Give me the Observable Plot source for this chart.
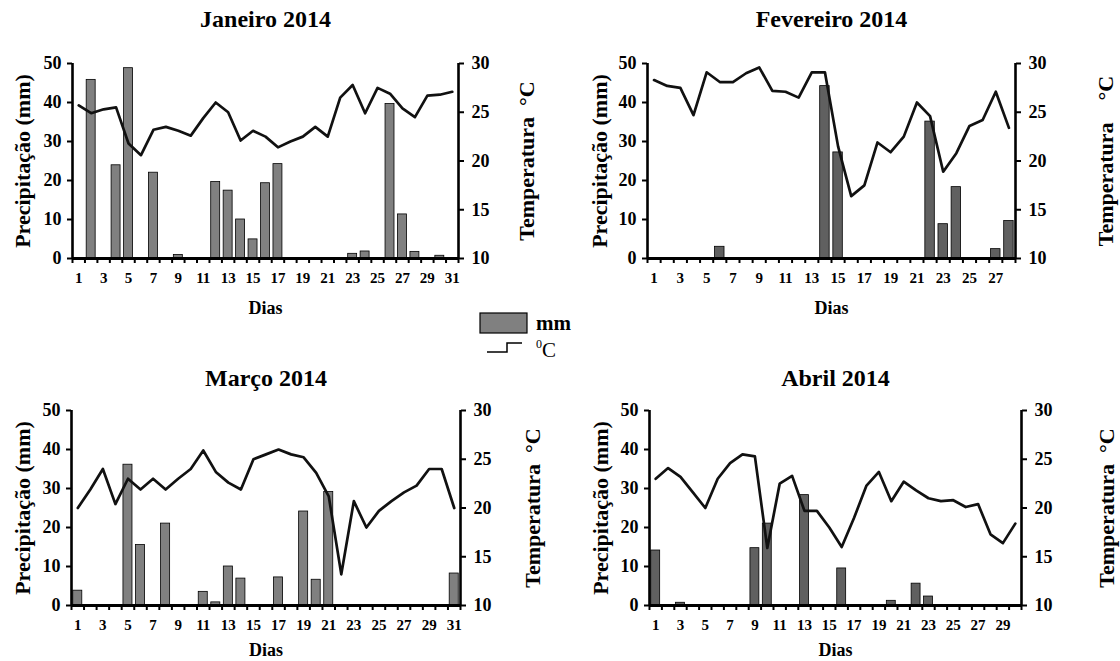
<!DOCTYPE html>
<html>
<head>
<meta charset="utf-8">
<script src="https://cdn.jsdelivr.net/npm/d3@7"></script>
<script src="https://cdn.jsdelivr.net/npm/@observablehq/plot@0.6"></script>
<style>
  html, body { margin: 0; padding: 0; background: #fff; }
  #wrap { position: relative; width: 1120px; height: 661px; background: #fff; overflow: hidden; }
  #wrap > svg { position: absolute; margin: 0; }
  #wrap svg, #wrap svg text { font-family: "Liberation Serif", "Times New Roman", serif; }
</style>
</head>
<body>
<div id="wrap"></div>
<script>
// ---------- data ----------
const janDays = d3.range(1, 32);
const janMM = [0, 45.8, 0, 23.9, 48.8, 0, 22, 0, 0.9, 0, 0, 19.6, 17.4, 10, 4.9, 19.3, 24.2, 0, 0, 0, 0, 0, 1.2, 1.8, 0, 39.6, 11.3, 1.7, 0, 0.7, 0];
const janTemp = [25.7, 24.9, 25.3, 25.5, 21.8, 20.6, 23.2, 23.5, 23.1, 22.6, 24.4, 26.0, 25.0, 22.1, 23.1, 22.5, 21.4, 22.0, 22.5, 23.5, 22.5, 26.5, 27.8, 24.9, 27.5, 26.9, 25.4, 24.5, 26.7, 26.8, 27.1];

const fevDays = d3.range(1, 29);
const fevMM = [0, 0, 0, 0, 0, 3.0, 0, 0, 0, 0, 0, 0, 0, 44.2, 27.2, 0, 0, 0, 0, 0, 0, 35.1, 8.8, 18.3, 0, 0, 2.4, 9.6];
const fevTemp = [28.3, 27.7, 27.5, 24.7, 29.1, 28.1, 28.1, 29.0, 29.6, 27.2, 27.1, 26.5, 29.1, 29.1, 21.5, 16.4, 17.5, 21.9, 20.9, 22.5, 26.0, 24.6, 18.9, 20.8, 23.6, 24.2, 27.1, 23.4];

const marDays = d3.range(1, 32);
const marMM = [3.8, 0, 0, 0, 36.1, 15.5, 0, 21.0, 0, 0, 3.5, 0.8, 10.0, 6.9, 0, 0, 7.2, 0, 24.1, 6.6, 29.1, 0, 0, 0, 0, 0, 0, 0, 0, 0, 8.2];
const marTemp = [20.0, 21.9, 24.0, 20.4, 23.0, 21.9, 23.0, 21.9, 23.0, 24.0, 25.9, 23.7, 22.6, 21.9, 25.0, 25.5, 26.0, 25.5, 25.2, 23.6, 21.2, 13.2, 20.7, 18.0, 19.7, 20.7, 21.6, 22.3, 24.0, 24.0, 20.0];

const abrDays = d3.range(1, 31);
const abrMM = [14.1, 0, 0.7, 0, 0, 0, 0, 0, 14.7, 21.0, 0, 0, 28.3, 0, 0, 9.5, 0, 0, 0, 1.2, 0, 5.6, 2.3, 0, 0, 0, 0, 0, 0, 0];
const abrTemp = [23.0, 24.1, 23.2, 21.6, 20.0, 23.0, 24.6, 25.5, 25.3, 15.9, 22.5, 23.3, 19.7, 19.7, 18.0, 16.0, 19.0, 22.3, 23.7, 20.7, 22.7, 21.8, 21.0, 20.7, 20.8, 20.1, 20.4, 17.3, 16.4, 18.4];

const mmTicks = [0, 10, 20, 30, 40, 50];
const tempTicks = [10, 15, 20, 25, 30];

// ---------- drawing ----------
const FONT = "Liberation Serif, Times New Roman, serif";
const tToMM = t => (t - 10) * 2.5;   // 10..30 °C  ->  0..50 mm axis

function panel(cfg) {
  const n = cfg.days.length;
  const data = cfg.days.map((d, i) => ({day: d, mm: cfg.mm[i], t: cfg.temp[i]}));
  const bounds = d3.range(n + 1).map(i => i + 0.5);
  const labels = cfg.days.filter(d => d % 2 === 1);
  const T = {fontFamily: FONT, fontWeight: "bold"};
  const svg = Plot.plot({
    width: cfg.width, height: cfg.height,
    marginLeft: cfg.mL, marginRight: cfg.mR, marginTop: cfg.mT, marginBottom: cfg.mB,
    style: `font-family: ${FONT}; font-weight: bold; font-size: 15px; color: #000; background: transparent; overflow: visible;`,
    x: {domain: [0.5, n + 0.5], label: null},
    y: {domain: [0, 50], label: null},
    marks: [
      Plot.rectY(data.filter(d => d.mm > 0), {x1: d => d.day - 0.36, x2: d => d.day + 0.36, y: "mm", fill: cfg.color, stroke: "#000", strokeWidth: 0.8}),
      Plot.line(data, {x: "day", y: d => tToMM(d.t), stroke: "#111", strokeWidth: 2.7, strokeLinejoin: "round"}),
      Plot.axisX({ticks: bounds, tickSize: 5, tickFormat: () => "", strokeWidth: 2, label: null}),
      Plot.axisX({ticks: labels, tickSize: 0, tickPadding: 14, tickFormat: d => String(d), fontSize: 15, label: null, ...T}),
      Plot.axisY({ticks: mmTicks, tickSize: 5, tickPadding: 6, strokeWidth: 2, fontSize: 18, label: null, ...T}),
      Plot.axisY({anchor: "right", ticks: tempTicks.map(tToMM), tickFormat: v => String(v / 2.5 + 10), tickSize: 5, tickPadding: 8, strokeWidth: 2, fontSize: 18, label: null, ...T}),
      Plot.ruleX([0.5, n + 0.5], {stroke: "#000", strokeWidth: 2.6}),
      Plot.ruleY([0], {stroke: "#000", strokeWidth: 3.2}),
      Plot.text([cfg.title], {frameAnchor: "top", textAnchor: "middle", lineAnchor: "middle", dy: cfg.titleDy, fontSize: 24, ...T}),
      Plot.text(["Precipitação (mm)"], {frameAnchor: "left", textAnchor: "middle", lineAnchor: "middle", rotate: -90, dx: cfg.lDx, fontSize: 22, ...T}),
      Plot.text([cfg.rLabel], {frameAnchor: "right", textAnchor: "middle", lineAnchor: "middle", rotate: -90, dx: cfg.rDx, fontSize: 22, ...T}),
      Plot.text(["Dias"], {frameAnchor: "bottom", textAnchor: "middle", lineAnchor: "middle", dy: cfg.diasDy, fontSize: 18, ...T})
    ]
  });
  svg.style.left = cfg.left + "px";
  svg.style.top = cfg.top + "px";
  svg.style.fontFamily = FONT;
  return svg;
}

const wrap = document.getElementById("wrap");

wrap.appendChild(panel({
  days: janDays, mm: janMM, temp: janTemp, color: "#808080", title: "Janeiro 2014",
  rLabel: "Temperatura\u00a0\u00a0°C",
  left: 0, top: 0, width: 560, height: 330, mL: 72, mR: 102, mT: 63, mB: 72,
  titleDy: -44, lDx: -50, rDx: 68, diasDy: 50
}));
wrap.appendChild(panel({
  days: fevDays, mm: fevMM, temp: fevTemp, color: "#606060", title: "Fevereiro 2014",
  rLabel: "Temperatura\u00a0\u00a0\u00a0\u00a0°C",
  left: 560, top: 0, width: 560, height: 330, mL: 87, mR: 105, mT: 63, mB: 72,
  titleDy: -44, lDx: -48, rDx: 90, diasDy: 50
}));
wrap.appendChild(panel({
  days: marDays, mm: marMM, temp: marTemp, color: "#808080", title: "Março 2014",
  rLabel: "Temperatura\u00a0\u00a0°C",
  left: 0, top: 340, width: 560, height: 321, mL: 71, mR: 100, mT: 70, mB: 56,
  titleDy: -32, lDx: -49, rDx: 72, diasDy: 45
}));
wrap.appendChild(panel({
  days: abrDays, mm: abrMM, temp: abrTemp, color: "#606060", title: "Abril 2014",
  rLabel: "Temperatura\u00a0\u00a0°C",
  left: 560, top: 340, width: 560, height: 321, mL: 89, mR: 99, mT: 70, mB: 56,
  titleDy: -32, lDx: -49, rDx: 85, diasDy: 45
}));

// ---------- legend ----------
const NS = "http://www.w3.org/2000/svg";
const leg = document.createElementNS(NS, "svg");
leg.setAttribute("width", 130); leg.setAttribute("height", 64);
leg.style.left = "470px"; leg.style.top = "305px";
leg.innerHTML = `
  <rect x="10" y="8" width="47" height="20" fill="#808080" stroke="#000" stroke-width="1.2"/>
  <text x="66" y="25" font-family="${FONT}" font-weight="bold" font-size="21">mm</text>
  <polyline points="17,47 37,47 37,38 52,38" fill="none" stroke="#000" stroke-width="1.5"/>
  <text x="66" y="52" font-family="${FONT}" font-size="21"><tspan font-size="12" dy="-9">0</tspan><tspan dy="9">C</tspan></text>
`;
wrap.appendChild(leg);
</script>
</body>
</html>
